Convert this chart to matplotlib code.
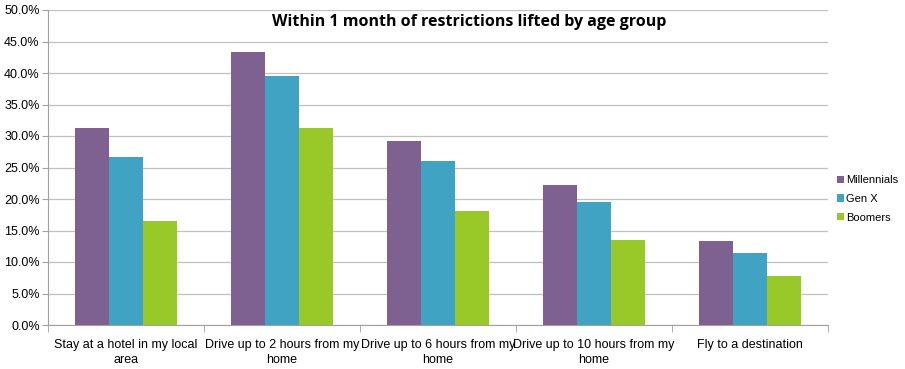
import matplotlib
matplotlib.use("Agg")
import matplotlib.pyplot as plt
import numpy as np
from matplotlib.ticker import FuncFormatter, MultipleLocator

categories = ["Stay at a hotel in my local\narea", "Drive up to 2 hours from my\nhome",
              "Drive up to 6 hours from my\nhome", "Drive up to 10 hours from my\nhome",
              "Fly to a destination"]
series_names = ["Millennials", "Gen X", "Boomers"]
millennials = [31.3, 43.3, 29.2, 22.2, 13.4]
genx = [26.6, 39.5, 26.0, 19.5, 11.4]
boomers = [16.5, 31.2, 18.1, 13.5, 7.8]
colors = ["#7E6091", "#41A3C3", "#98C928"]

plt.rcParams['font.family'] = ['Liberation Sans', 'DejaVu Sans']

fig = plt.figure(figsize=(9.05, 3.69), dpi=100)
ax = fig.add_axes([48/905, 44/369, 780/905, 315/369])

x = np.arange(len(categories))
w = 0.22
for i, (vals, name, c) in enumerate(zip([millennials, genx, boomers], series_names, colors)):
    ax.bar(x + (i - 1) * w, vals, width=w, color=c, label=name, zorder=3)

ax.set_xlim(-0.5, len(categories) - 0.5)
ax.set_ylim(0, 50)
ax.yaxis.set_major_locator(MultipleLocator(5))
ax.yaxis.set_major_formatter(FuncFormatter(lambda v, p: f"{v:.1f}%"))
ax.grid(axis='y', color='#c0c0c0', linewidth=0.9, zorder=0)
ax.set_xticks(x)
ax.set_xticklabels(categories, fontsize=9, linespacing=1.4)
ax.set_xticks(np.arange(len(categories) + 1) - 0.5, minor=True)
ax.tick_params(axis='x', which='major', length=0, pad=10)
ax.tick_params(axis='x', which='minor', length=5, color='#a0a0a0')
ax.tick_params(axis='y', length=4, color='#a0a0a0', labelsize=9, pad=2)
for s in ['top', 'right']:
    ax.spines[s].set_visible(False)
for s in ['left', 'bottom']:
    ax.spines[s].set_color('#a0a0a0')

fig.text(469/905, 1 - 22/369, "Within 1 month of restrictions lifted by age group",
         ha='center', va='center', fontsize=11.5, fontweight='bold', family=['Open Sans', 'DejaVu Sans'])

leg = fig.legend(loc='upper left', bbox_to_anchor=(827/905, 1 - 165/369), frameon=False,
                 fontsize=8, handlelength=0.6, handleheight=0.6, handletextpad=0.25, labelspacing=0.8)

fig.savefig("out.png", dpi=100)
